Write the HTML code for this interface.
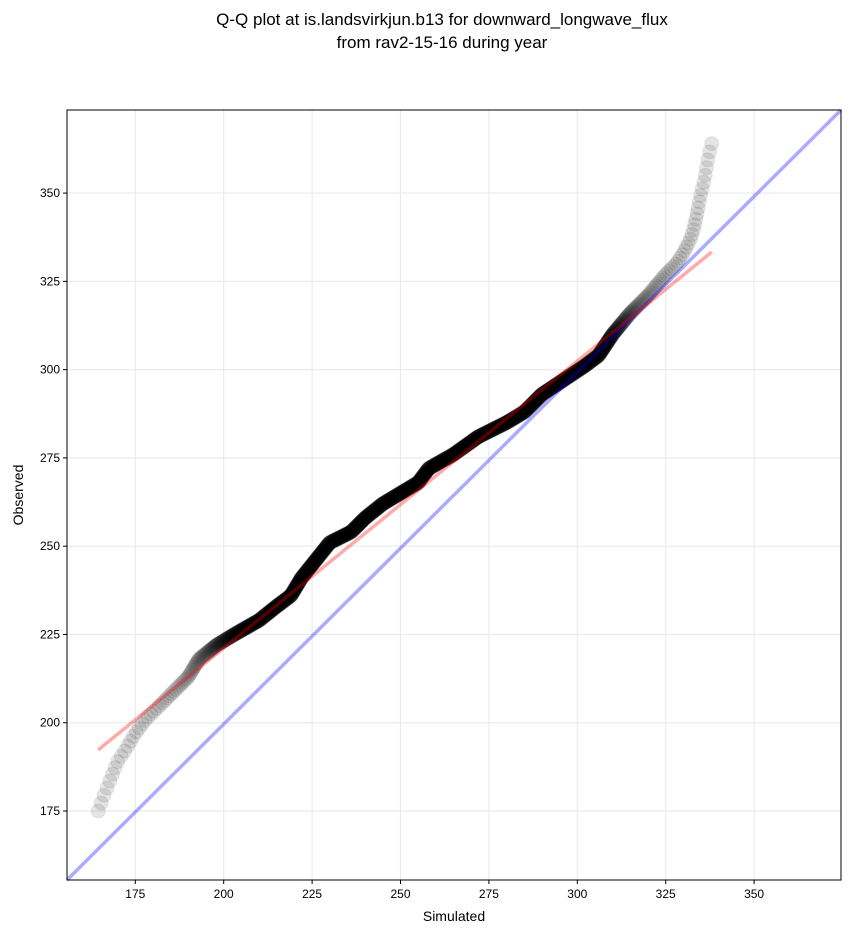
<!DOCTYPE html>
<html><head><meta charset="utf-8"><style>
body{margin:0;background:#fff;}
svg{display:block;font-family:"Liberation Sans","DejaVu Sans",sans-serif;}
</style></head><body>
<svg id="s" width="851" height="934" xmlns="http://www.w3.org/2000/svg">
<rect width="851" height="934" fill="#fff"/>
<text x="442" y="25" font-size="17" text-anchor="middle">Q-Q plot at is.landsvirkjun.b13 for downward_longwave_flux</text>
<text x="442" y="48" font-size="17" text-anchor="middle">from rav2-15-16 during year</text>
<g id="grid" stroke="#ebebeb" stroke-width="1.2"></g>
<g id="pts"></g>
<g id="lines"></g>
<rect x="67" y="110" width="774" height="770" fill="none" stroke="#000" stroke-width="1"/>
<g id="ticks" font-size="12"></g>
<text x="454" y="921" font-size="14" text-anchor="middle">Simulated</text>
<text x="23" y="495" font-size="14" text-anchor="middle" transform="rotate(-90 23 495)">Observed</text>
</svg>
<script>
var NS="http://www.w3.org/2000/svg";
function X(v){return 135.3+(v-175)*3.536;}
function Y(v){return 811-(v-175)*3.531;}
function el(n,a,p){var e=document.createElementNS(NS,n);for(var k in a)e.setAttribute(k,a[k]);p.appendChild(e);return e;}
var g=document.getElementById('grid'),t=document.getElementById('ticks');
var L=67,R=841,T=110,B=880;
for(var v=175;v<=350;v+=25){
 var x=X(v);el('line',{x1:x,x2:x,y1:T,y2:B},g);
 el('line',{x1:x,x2:x,y1:B,y2:B+4,stroke:'#000'},t);
 var tx=el('text',{x:x,y:B+18,'text-anchor':'middle'},t);tx.textContent=v;
 var y=Y(v);el('line',{x1:L,x2:R,y1:y,y2:y},g);
 el('line',{x1:L-4,x2:L,y1:y,y2:y,stroke:'#000'},t);
 var ty=el('text',{x:L-7,y:y+4,'text-anchor':'end'},t);ty.textContent=v;
}
var cp=[[164.5,175],[166,179],[168,184],[170,189],[172,192],[175,197],[178,201],[182,205],[186,209],[190,213],[193,218],[198,222],[203,225],[210,229],[215,233],[219,236],[222,241],[226,246],[230,251],[236,254],[240,258],[245,262],[250,265],[255,268],[258,272],[265,276],[272,281],[280,285],[285,288],[290,293],[296,297],[302,301],[306,304],[310,310],[315,316],[320,321],[325,327],[328,330],[330,333],[332,337],[333,340],[334,345],[335,350],[336,354],[337,360],[338,364]];
var cum=[0];for(var i=1;i<cp.length;i++){cum.push(cum[i-1]+Math.hypot(cp[i][0]-cp[i-1][0],cp[i][1]-cp[i-1][1]));}
var tot=cum[cum.length-1];
function at(t){var d=t*tot;for(var i=1;i<cp.length;i++){if(cum[i]>=d){var f=(d-cum[i-1])/(cum[i]-cum[i-1]);return [cp[i-1][0]+f*(cp[i][0]-cp[i-1][0]),cp[i-1][1]+f*(cp[i][1]-cp[i-1][1])];}}return cp[cp.length-1];}
var p=document.getElementById('pts'),N=1400,h='';
for(var i=0;i<N;i++){var s=2*(i/(N-1))-1;var tt=0.5+0.5*(0.6*s+0.4*Math.pow(s,31));
 var q=at(tt);h+='<circle cx="'+X(q[0]).toFixed(1)+'" cy="'+Y(q[1]).toFixed(1)+'" r="7"/>';}
p.innerHTML=h;p.setAttribute('fill','rgba(0,0,0,0.1)');p.setAttribute('stroke','rgba(0,0,0,0.07)');
var l=document.getElementById('lines');
el('line',{x1:L,y1:B,x2:R,y2:T,stroke:'rgba(0,0,255,0.33)','stroke-width':3.5},l);
el('line',{x1:X(164.5),y1:Y(192.3),x2:X(338),y2:Y(333.3),stroke:'rgba(255,0,0,0.33)','stroke-width':3.5},l);
</script>
</body></html>
